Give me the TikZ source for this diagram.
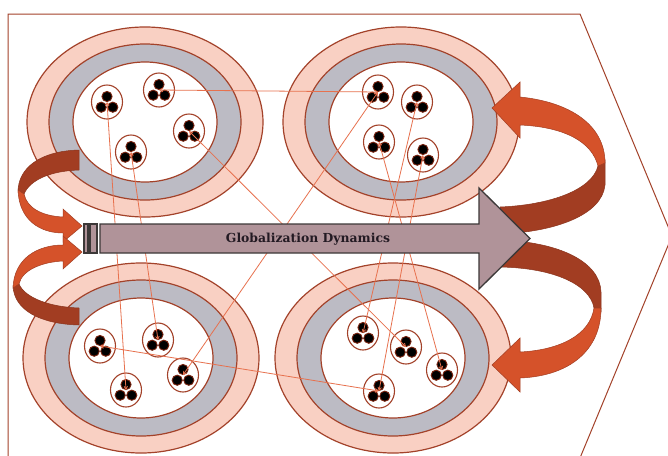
\documentclass[tikz,border=0pt]{standalone}
\usepackage{fontspec}
\newfontfamily\labelfont{DejaVu Serif}[BoldFont={DejaVu Serif Bold}]
\usetikzlibrary{arrows.meta,shapes.geometric}
\definecolor{rust}{HTML}{A3422A}
\definecolor{pinkfill}{HTML}{F9D0C3}
\definecolor{grayring}{HTML}{BCBBC4}
\definecolor{darkband}{HTML}{A23D22}
\definecolor{orangeband}{HTML}{D5522A}
\definecolor{linkcol}{HTML}{E7714E}
\definecolor{arrowfill}{HTML}{B09399}
\definecolor{arrowline}{HTML}{3C3838}
\definecolor{textcol}{HTML}{231A23}
\definecolor{dotring}{HTML}{7A2410}
\tikzset{
  region/.pic={
    \draw[rust, line width=1.2pt, fill=pinkfill] (0,0) ellipse [x radius=118pt, y radius=95pt];
    \draw[rust, line width=1.2pt, fill=grayring] (0,0) ellipse [x radius=96pt, y radius=78pt];
    \draw[rust, line width=1.2pt, fill=white] (0,0) ellipse [x radius=72pt, y radius=60pt];
  },
  cluster/.style={ellipse, draw=rust, line width=1.1pt, fill=white,
    minimum width=31pt, minimum height=34pt, inner sep=0pt,
    path picture={
      \foreach \dx/\dy in {0/5.5,-5.8/-5.2,5.8/-5.2}
        \filldraw[fill=black, draw=dotring, line width=0.9pt]
          ([shift={(\dx pt,\dy pt)}]path picture bounding box.center) circle[radius=5.1pt];
    }},
  link/.style={linkcol, line width=0.8pt,
    {Straight Barb[length=3pt,width=3.5pt]}-{Straight Barb[length=3pt,width=3.5pt]}},
  bandback/.style={fill=darkband, draw=darkband!85!black, line width=0.5pt},
  bandfront/.style={fill=orangeband, draw=darkband, line width=0.5pt},
  bigarrow/.style={fill=arrowfill, draw=arrowline, line width=1.3pt, line join=miter},
  framestyle/.style={rust, line width=1pt}
}
\begin{document}
\begin{tikzpicture}[x=1pt,y=-1pt]
\useasboundingbox (0,0) rectangle (668,455);
\clip (0,0) rectangle (668,455);
\fill[white] (0,0) rectangle (668,455);
% outer frame
\draw[framestyle] (8,470) -- (8,14) -- (580,14) -- (672,236) -- (575,470);
% regions
\pic at (145,122) {region};
\pic at (401,122) {region};
\pic at (141,358) {region};
\pic at (393,358) {region};
% curved arrows, left
\draw[bandback] (79,150) .. controls (40,151) and (18,168) .. (18,192) -- (24,194) .. controls (30,180) and (50,171) .. (79,170) -- cycle;
\draw[bandfront] (18,190) .. controls (19,220) and (40,233) .. (63,233) -- (63,242) -- (82,226) -- (63,209) -- (63,217) .. controls (42,216) and (27,208) .. (24,194) -- cycle;
\draw[bandback] (79,325) .. controls (40,324) and (14,310) .. (13,286) -- (19,284) .. controls (25,298) and (50,307) .. (79,308) -- cycle;
\draw[bandfront] (13,288) .. controls (14,258) and (38,245) .. (63,245) -- (63,236) -- (82,252) -- (63,269) -- (63,261) .. controls (42,262) and (22,270) .. (19,284) -- cycle;
% curved arrows, right
\draw[bandback] (605,160) -- (605,185) .. controls (602,215) and (555,232) .. (500,234) -- (500,207) .. controls (550,205) and (592,190) .. (598,166) -- cycle;
\draw[bandfront] (492,108) -- (520,82) -- (520,97) .. controls (570,102) and (605,125) .. (605,163) -- (598,166) .. controls (592,142) and (565,127) .. (520,125) -- (520,138) -- cycle;
\draw[bandback] (500,240) .. controls (560,242) and (600,262) .. (601,292) -- (601,312) -- (594,308) .. controls (590,285) and (555,268) .. (500,267) -- cycle;
\draw[bandfront] (601,308) .. controls (601,350) and (570,376) .. (520,378) -- (520,392) -- (492,365) -- (520,338) -- (520,352) .. controls (560,350) and (590,335) .. (594,308) -- cycle;
% clusters
\node[cluster] (tl1) at (107,102) {};
\node[cluster] (tl2) at (159,90) {};
\node[cluster] (tl3) at (189,131) {};
\node[cluster] (tl4) at (131,152) {};
\node[cluster] (tr1) at (378,92) {};
\node[cluster] (tr2) at (417,102) {};
\node[cluster] (tr3) at (379,142) {};
\node[cluster] (tr4) at (423,155) {};
\node[cluster] (bl1) at (100,346) {};
\node[cluster] (bl2) at (158,340) {};
\node[cluster] (bl3) at (183,375) {};
\node[cluster] (bl4) at (126,390) {};
\node[cluster] (br1) at (363,333) {};
\node[cluster] (br2) at (406,347) {};
\node[cluster] (br3) at (442,370) {};
\node[cluster] (br4) at (379,391) {};
% links
\draw[link] (tl2.center) -- (tr1.center);
\draw[link] (tl1.center) -- (bl4.center);
\draw[link] (tl4.center) -- (bl2.center);
\draw[link] (tl3.center) -- (br2.center);
\draw[link] (tr1.center) -- (bl3.center);
\draw[link] (bl1.center) -- (br4.center);
\draw[link] (tr2.center) -- (br1.center);
\draw[link] (tr3.center) -- (br3.center);
\draw[link] (tr4.center) -- (br4.center);
% big arrow
\draw[bigarrow] (100,224) -- (479,224) -- (479,188) -- (530,238.5) -- (479,289) -- (479,253) -- (100,253) -- cycle;
\draw[bigarrow] (84,224) rectangle (88,253);
\draw[bigarrow] (90,224) rectangle (97,253);
\node[font=\labelfont\bfseries\fontsize{12.4}{15}\selectfont, text=textcol, inner sep=0pt] (gd) at (308,239) {Globalization Dynamics};
\end{tikzpicture}
\end{document}
